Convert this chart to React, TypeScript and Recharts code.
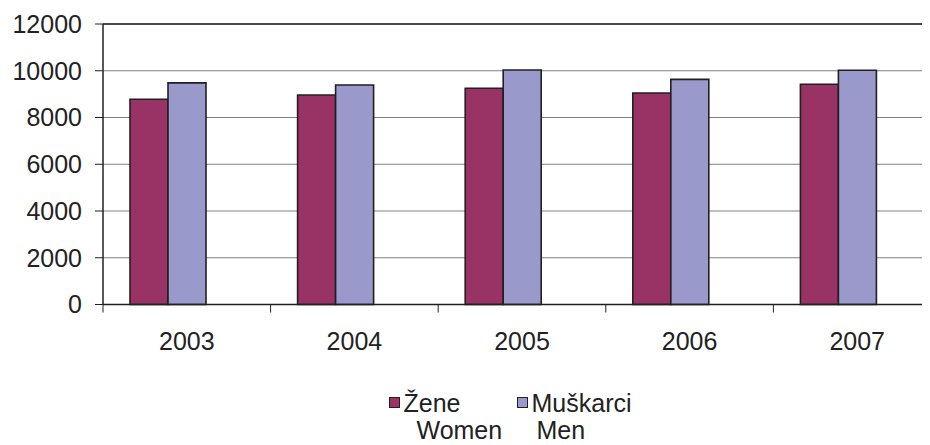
import React from "react";
import {
  BarChart,
  Bar,
  XAxis,
  YAxis,
  CartesianGrid,
  Legend,
  ReferenceLine,
} from "recharts";

// ---- data ----
const years = ["2003", "2004", "2005", "2006", "2007"];
const women = [8780, 8960, 9250, 9050, 9420];
const men = [9480, 9390, 10030, 9630, 10020];
// empty third slot of each group in the original chart
const spacer = [null, null, null, null, null];
const yTicks = [0, 2000, 4000, 6000, 8000, 10000, 12000];
const seriesLabels = ["Žene", "Muškarci"];
const seriesLabelsEn = ["Women", "Men"];

const data = years.map((y, i) => ({
  year: y,
  women: women[i],
  men: men[i],
  spacer: spacer[i],
}));

// ---- style constants ----
const CHART_W = 960;
const CHART_H = 437;
const Y_AXIS_W = 95;
const MARGIN = { top: 16, right: 27, bottom: 110.5, left: 0 };
const PLOT_W = CHART_W - Y_AXIS_W - MARGIN.left - MARGIN.right;
const FONT = "'Liberation Sans', Arial, sans-serif";
const TEXT = "#222";
const WOMEN_COLOR = "#993366";
const MEN_COLOR = "#9999CC";
const BORDER = "#231F20";

const XTick = (props: any) => {
  const { x, y, payload } = props;
  const band = PLOT_W / years.length;
  return (
    <g>
      <line
        x1={x - band / 2}
        x2={x - band / 2}
        y1={y}
        y2={y + 8}
        stroke={TEXT}
        strokeWidth={1}
      />
      <text
        x={x}
        y={y}
        dy={45}
        textAnchor="middle"
        fill={TEXT}
        fontSize={25}
        fontFamily={FONT}
      >
        {payload.value}
      </text>
    </g>
  );
};

const legendPos = [
  { sq: 381, t1: 395.5, t2: 408.5 },
  { sq: 508.5, t1: 523.5, t2: 528.5 },
];
const legendColors = [WOMEN_COLOR, MEN_COLOR];

const LegendContent = () => (
  <div style={{ position: "relative", width: CHART_W, height: 60, fontFamily: FONT, fontSize: 25, color: TEXT, lineHeight: "27px" }}>
    {seriesLabels.map((label, i) => (
      <React.Fragment key={label}>
        <div
          style={{
            position: "absolute",
            left: legendPos[i].sq,
            top: 8.5,
            width: 9,
            height: 9,
            background: legendColors[i],
            border: `1.6px solid ${BORDER}`,
          }}
        />
        <span style={{ position: "absolute", left: legendPos[i].t1, top: 1.5, whiteSpace: "nowrap" }}>
          {label}
        </span>
        <span style={{ position: "absolute", left: legendPos[i].t2, top: 28.8, whiteSpace: "nowrap" }}>
          {seriesLabelsEn[i]}
        </span>
      </React.Fragment>
    ))}
  </div>
);

export default function App() {
  return (
    <div style={{ width: 922, height: 437, overflow: "visible" }}>
      <BarChart
        width={CHART_W}
        height={CHART_H}
        data={data}
        margin={MARGIN}
        barGap={0}
        barSize={38}
      >
        <CartesianGrid vertical={false} stroke="#808080" strokeWidth={1} />
        <ReferenceLine y={12000} stroke={BORDER} strokeWidth={1.5} />
        <XAxis
          dataKey="year"
          tickLine={false}
          tickSize={0}
          tickMargin={0}
          axisLine={{ stroke: BORDER, strokeWidth: 1.5 }}
          tick={<XTick />}
          height={30}
          interval={0}
        />
        <YAxis
          width={Y_AXIS_W}
          domain={[0, 12000]}
          ticks={yTicks}
          interval={0}
          tickSize={8}
          tickMargin={13}
          axisLine={{ stroke: BORDER, strokeWidth: 1.5 }}
          tickLine={{ stroke: BORDER }}
          tick={{ fill: TEXT, fontSize: 25, fontFamily: FONT }}
        />
        <Legend
          layout="horizontal"
          verticalAlign="middle"
          align="center"
          wrapperStyle={{ top: 380, left: 0, width: CHART_W, height: 60 }}
          content={<LegendContent />}
        />
        <Bar dataKey="women" name={seriesLabels[0]} fill={WOMEN_COLOR} stroke={BORDER} strokeWidth={1.6} isAnimationActive={false} />
        <Bar dataKey="men" name={seriesLabels[1]} fill={MEN_COLOR} stroke={BORDER} strokeWidth={1.6} isAnimationActive={false} />
        <Bar dataKey="spacer" legendType="none" fill="none" isAnimationActive={false} />
      </BarChart>
    </div>
  );
}
